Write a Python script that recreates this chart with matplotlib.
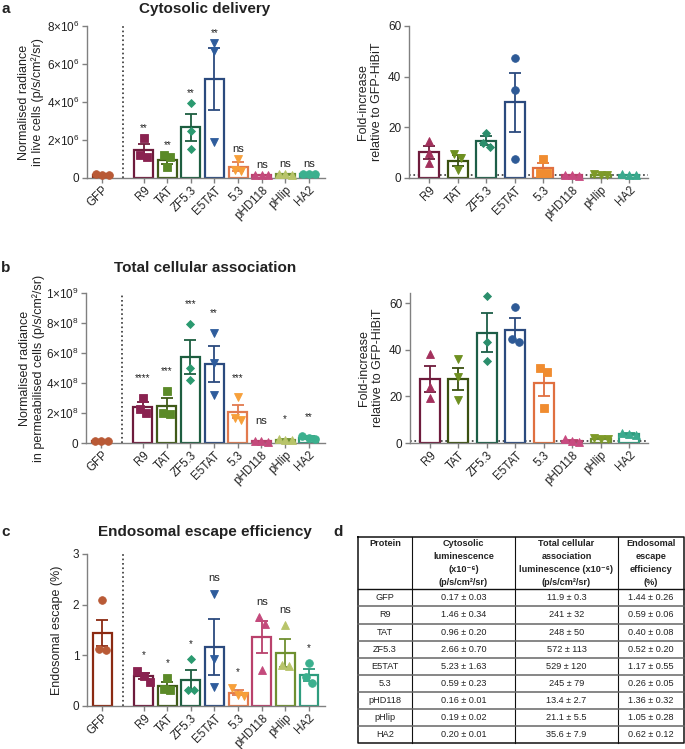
import numpy as np
import matplotlib
matplotlib.use('Agg')
import matplotlib.pyplot as plt

plt.rcParams['font.family'] = ['Liberation Sans', 'DejaVu Sans']
plt.rcParams['mathtext.fontset'] = 'custom'
plt.rcParams['mathtext.rm'] = 'Liberation Sans'
plt.rcParams['mathtext.it'] = 'Liberation Sans:italic'
plt.rcParams['mathtext.bf'] = 'Liberation Sans:bold'

# ---------------- data ----------------
proteins_all = ['GFP', 'R9', 'TAT', 'ZF5.3', 'E5TAT', '5.3', 'pHD118', 'pHlip', 'HA2']
proteins_cpp = proteins_all[1:]

# a (left): cytosolic radiance, x1e6 p/s/cm2/sr
cyto_mean = [0.17, 1.46, 0.96, 2.66, 5.23, 0.59, 0.16, 0.19, 0.20]
cyto_sem = [0.03, 0.34, 0.20, 0.70, 1.63, 0.23, 0.01, 0.02, 0.01]
cyto_pts = [[0.14, 0.19, 0.18], [2.10, 1.20, 1.08], [1.20, 1.08, 0.60],
            [3.96, 2.50, 1.52], [7.10, 6.70, 1.90], [1.00, 0.40, 0.37],
            [0.15, 0.17, 0.16], [0.17, 0.21, 0.19], [0.19, 0.21, 0.20]]
cyto_sig = ['', '**', '**', '**', '**', 'ns', 'ns', 'ns', 'ns']
cyto_yticks = [0, 2e6, 4e6, 6e6, 8e6]
cyto_yticklabels = ['0', '2×10$^6$', '4×10$^6$', '6×10$^6$', '8×10$^6$']

# a (right): fold increase vs GFP-HiBiT
cyto_fold_mean = [10.1, 6.9, 14.8, 29.9, 3.8, 1.0, 1.2, 1.2]
cyto_fold_sem = [2.5, 2.2, 1.8, 11.7, 2.0, 0.15, 0.1, 0.1]
cyto_fold_pts = [[14.5, 9.9, 6.0], [9.3, 8.0, 3.3], [17.8, 14.0, 12.4],
                 [47.2, 34.9, 7.6], [7.4, 2.0, 2.0], [1.2, 0.7, 1.0],
                 [1.3, 1.0, 1.4], [1.2, 1.4, 1.0]]

# b (left): total cellular association, x1e8
assoc_mean = [0.119, 2.41, 2.48, 5.72, 5.29, 2.10, 0.134, 0.211, 0.356]
assoc_sem = [0.003, 0.32, 0.50, 1.13, 1.20, 0.45, 0.027, 0.055, 0.079]
assoc_pts = [[0.11, 0.12, 0.125], [3.00, 2.25, 1.98], [3.48, 2.00, 1.96],
             [7.95, 4.98, 4.23], [7.35, 5.35, 3.17], [3.05, 1.70, 1.55],
             [0.09, 0.15, 0.16], [0.25, 0.20, 0.18], [0.45, 0.30, 0.32]]
assoc_sig = ['', '****', '***', '***', '**', '***', 'ns', '*', '**']
assoc_yticks = [0, 2e8, 4e8, 6e8, 8e8, 1e9]
assoc_yticklabels = ['0', '2×10$^8$', '4×10$^8$', '6×10$^8$', '8×10$^8$', '1×10$^9$']

# b (right): fold increase
assoc_fold_mean = [27.3, 27.5, 47.3, 48.6, 25.7, 1.0, 1.9, 3.8]
assoc_fold_sem = [5.5, 4.8, 8.4, 4.8, 5.5, 0.3, 0.2, 0.3]
assoc_fold_pts = [[38.0, 24.0, 19.5], [36.0, 28.4, 18.4], [63.1, 43.4, 35.2],
                  [58.1, 44.4, 43.3], [32.0, 30.3, 14.9], [1.6, 0.5, 1.0],
                  [1.8, 2.0, 1.9], [4.3, 3.4, 3.9]]

# c: endosomal escape efficiency (%)
esc_mean = [1.44, 0.59, 0.40, 0.52, 1.17, 0.26, 1.36, 1.05, 0.62]
esc_sem = [0.26, 0.06, 0.08, 0.20, 0.55, 0.05, 0.32, 0.28, 0.12]
esc_pts = [[2.09, 1.11, 1.12], [0.70, 0.60, 0.48], [0.55, 0.33, 0.32],
           [0.92, 0.32, 0.32], [2.22, 0.92, 0.37], [0.36, 0.22, 0.20],
           [1.75, 1.61, 0.72], [1.60, 0.78, 0.80], [0.84, 0.57, 0.46]]
esc_sig = ['', '*', '*', '*', 'ns', '*', 'ns', 'ns', '*']

# d: table (total association column in x1e6)
tbl_assoc_mean = [11.9, 241, 248, 572, 529, 245, 13.4, 21.1, 35.6]
tbl_assoc_sem = [0.3, 32, 50, 113, 120, 79, 2.7, 5.5, 7.9]

# ---------------- style ----------------
bar_col_L = ['#8B2A12', '#6E1B3C', '#3F5A18', '#1D5E40', '#2B4A7E',
             '#E27A4E', '#B9416C', '#6F9030', '#2E9C7E']
pt_col_L = ['#B95A36', '#8A2250', '#5B8A28', '#2B9A70', '#2E5C9C',
            '#F7A03A', '#C44A7C', '#B8C46A', '#3BB08E']
mk_L = ['o', 's', 's', 'D', 'v', 'v', '^', '^', 'o']
bar_col_R = ['#6E1B3C', '#3A5010', '#1D5E48', '#2B4A7E', '#E07040',
             '#B9416C', '#6F9030', '#2E9C7E']
pt_col_R = ['#A3305C', '#6E9020', '#2B8E6C', '#2E5A96', '#F08C30',
            '#C84A80', '#7E9A28', '#3BAA8E']
mk_R = ['^', 'v', 'D', 'o', 's', '^', 'v', '^']
ms_map = {'o': 5.5, 's': 5.5, 'D': 4.0, 'v': 6.0, '^': 6.0}

TXT = '#222222'
SPINE = '#808080'
W, H = 685, 749
fig = plt.figure(figsize=(W / 100, H / 100), dpi=100)


def ax_px(x0, x1, ytop, ybot):
    return fig.add_axes([x0 / W, 1 - ybot / H, (x1 - x0) / W, (ybot - ytop) / H])


def jitter(vals, span, step):
    vals = np.asarray(vals, float)
    order = np.argsort(-vals)
    offs = np.zeros(len(vals))
    clusters, cur = [], [order[0]]
    for i in order[1:]:
        if abs(vals[cur[-1]] - vals[i]) < 0.05 * span:
            cur.append(i)
        else:
            clusters.append(cur)
            cur = [i]
    clusters.append(cur)
    for c in clusters:
        n = len(c)
        if n > 1:
            p = (np.arange(n) - (n - 1) / 2) * step
            for j, idx in enumerate(c):
                offs[idx] = p[j]
    return offs


def style_axes(ax):
    for s in ['top', 'right']:
        ax.spines[s].set_visible(False)
    for s in ['left', 'bottom']:
        ax.spines[s].set_color(SPINE)
        ax.spines[s].set_linewidth(1.0)
    ax.tick_params(direction='out', length=3.5, width=1.0, color=SPINE,
                   labelsize=8.5, labelcolor=TXT, pad=2)
    ax.tick_params(axis='x', pad=1)
    ax.patch.set_visible(False)


def draw_panel(ax, pos, mean, sem, pts, bar_cols, pt_cols, mks, scale, width,
               ylim, step, sig=None, sig_off=8):
    span = ylim[1] - ylim[0]
    for i, x in enumerate(pos):
        m = mean[i] * scale
        s = sem[i] * scale
        p = np.asarray(pts[i]) * scale
        ax.bar(x, m, width=width, color='white', edgecolor=bar_cols[i],
               linewidth=1.6, zorder=2)
        ax.errorbar(x, m, yerr=s, fmt='none', ecolor=bar_cols[i],
                    elinewidth=1.3, capsize=4.2, capthick=1.3, zorder=3)
        offs = jitter(p, span, step)
        ax.plot(x + offs, p, ls='none', marker=mks[i], ms=ms_map[mks[i]],
                mfc=pt_cols[i], mec=pt_cols[i], mew=0.6, zorder=4,
                clip_on=False)
        if sig is not None and sig[i]:
            top = max(p.max(), m + s)
            fs = 8 if sig[i] == 'ns' else 7
            ax.annotate(sig[i], (x, top), xytext=(0, sig_off),
                        textcoords='offset points', ha='center', va='center',
                        fontsize=fs, color=TXT, zorder=5)
    ax.set_ylim(*ylim)


pos_L = [0] + [1.75 + k for k in range(8)]
pos_R = list(range(8))
xlim_L = (-0.65, 9.43)
xlim_R = (-0.7, 7.66)


def left_panel(ax, mean, sem, pts, scale, ylim, yticks, yticklabels, sig, sig_off, ylabel, lblx):
    style_axes(ax)
    draw_panel(ax, pos_L, mean, sem, pts, bar_col_L, pt_col_L, mk_L, scale,
               0.8, ylim, 0.27, sig, sig_off)
    ax.set_xlim(*xlim_L)
    ax.axvline((pos_L[0] + pos_L[1]) / 2, ls=':', color='#333333', lw=1.2, zorder=1)
    ax.set_xticks(pos_L)
    ax.set_xticklabels(proteins_all, rotation=45, ha='right',
                       rotation_mode='anchor', fontsize=8.3)
    ax.set_yticks(yticks)
    ax.set_yticklabels(yticklabels)
    ax.set_ylabel(ylabel, fontsize=9, color=TXT, linespacing=1.15)
    ax.yaxis.set_label_coords(lblx, 0.5)


def right_panel(ax, mean, sem, pts, ylim):
    style_axes(ax)
    draw_panel(ax, pos_R, mean, sem, pts, bar_col_R, pt_col_R, mk_R, 1.0,
               0.7, ylim, 0.24)
    ax.set_xlim(*xlim_R)
    ax.axhline(1, ls=':', color='#333333', lw=1.2, zorder=1)
    ax.set_xticks(pos_R)
    ax.set_xticklabels(proteins_cpp, rotation=45, ha='right',
                       rotation_mode='anchor', fontsize=8.3)
    ax.set_yticks([0, 20, 40, 60])
    ax.set_ylabel('Fold-increase\nrelative to GFP-HiBiT', fontsize=9,
                  color=TXT, linespacing=1.15)
    ax.yaxis.set_label_coords(-0.11, 0.5)


# a
axA = ax_px(87, 325, 26, 178)
left_panel(axA, cyto_mean, cyto_sem, cyto_pts, 1e6, (0, 8e6), cyto_yticks,
           cyto_yticklabels, cyto_sig, 7,
           'Normalised radiance\nin live cells (p/s/cm²/sr)', -0.18)
axA2 = ax_px(409, 648, 26, 178)
right_panel(axA2, cyto_fold_mean, cyto_fold_sem, cyto_fold_pts, (0, 60))

# b
axB = ax_px(86, 325, 293, 443)
left_panel(axB, assoc_mean, assoc_sem, assoc_pts, 1e8, (0, 1e9), assoc_yticks,
           assoc_yticklabels, assoc_sig, 14,
           'Normalised radiance\nin permeabilised cells (p/s/cm²/sr)', -0.172)
axB2 = ax_px(410, 648, 293, 443)
right_panel(axB2, assoc_fold_mean, assoc_fold_sem, assoc_fold_pts, (0, 64.3))

# c
axC = ax_px(87, 325, 554, 706)
left_panel(axC, esc_mean, esc_sem, esc_pts, 1.0, (0, 3), [0, 1, 2, 3],
           ['0', '1', '2', '3'], esc_sig, 11, 'Endosomal escape (%)', -0.10)

# overlay: titles, letters, table
ov = fig.add_axes([0, 0, 1, 1])
ov.set_xlim(0, W)
ov.set_ylim(H, 0)
ov.axis('off')
ov.patch.set_visible(False)

for txt, (x, y) in zip(['a', 'b', 'c', 'd'], [(6, 9), (6, 268), (6, 532), (338, 532)]):
    ov.text(x, y, txt, fontsize=11, fontweight='bold', color=TXT,
            ha='center', va='center')
for txt, y in zip(['Cytosolic delivery', 'Total cellular association',
                   'Endosomal escape efficiency'], [9, 268, 532]):
    ov.text(205, y, txt, fontsize=11, fontweight='bold', color=TXT,
            ha='center', va='center')

# table geometry
col_x = [358, 412, 515, 618, 684]
top, hdr_bot, bot = 537, 589.3, 743.3
row_h = (bot - hdr_bot) / len(proteins_all)
ov.plot([col_x[0], col_x[-1], col_x[-1], col_x[0], col_x[0]],
        [top, top, bot, bot, top], color='#111111', lw=1.1)
for cx in col_x[1:-1]:
    ov.plot([cx, cx], [top, bot], color='#111111', lw=0.8)
ov.plot([col_x[0], col_x[-1]], [hdr_bot, hdr_bot], color='#111111', lw=1.0)
for k in range(1, len(proteins_all)):
    y = hdr_bot + k * row_h
    ov.plot([col_x[0], col_x[-1]], [y, y], color='#666666', lw=1.1)

headers = [['Protein'],
           ['Cytosolic', 'luminescence', '(x10⁻⁶)', '(p/s/cm²/sr)'],
           ['Total cellular', 'association', 'luminescence (x10⁻⁶)', '(p/s/cm²/sr)'],
           ['Endosomal', 'escape', 'efficiency', '(%)']]
for j, lines in enumerate(headers):
    cx = (col_x[j] + col_x[j + 1]) / 2
    for k, ln in enumerate(lines):
        ov.text(cx, 543.3 + 13.15 * k, ln, fontsize=6.6, fontweight='bold',
                color=TXT, ha='center', va='center')


def fmt_pm(m, s, dec):
    return f'{m:.{dec}f} ± {s:.{dec}f}'


for i, prot in enumerate(proteins_all):
    cy = hdr_bot + (i + 0.5) * row_h
    dec_a = 1 if tbl_assoc_mean[i] < 100 else 0
    cells = [prot, fmt_pm(cyto_mean[i], cyto_sem[i], 2),
             fmt_pm(tbl_assoc_mean[i], tbl_assoc_sem[i], dec_a),
             fmt_pm(esc_mean[i], esc_sem[i], 2)]
    for j, c in enumerate(cells):
        cx = (col_x[j] + col_x[j + 1]) / 2
        ov.text(cx, cy, c, fontsize=6.6, color=TXT, ha='center', va='center')

fig.savefig('out.png', dpi=100)
